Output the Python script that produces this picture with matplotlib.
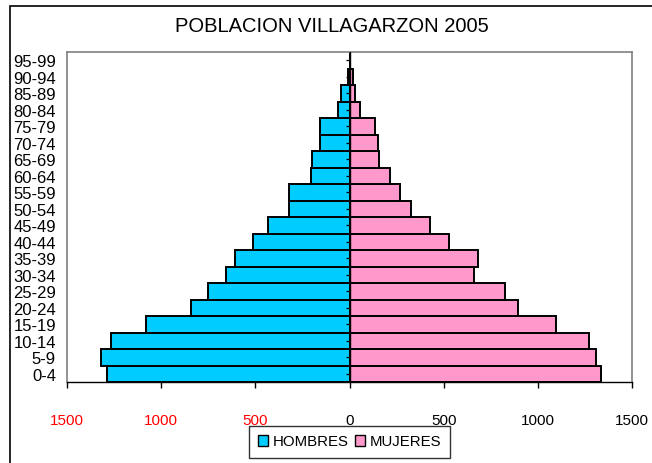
import matplotlib
matplotlib.use("Agg")
import matplotlib.pyplot as plt
from matplotlib.patches import Rectangle

plt.rcParams['font.family'] = ['Liberation Sans', 'DejaVu Sans']

age_groups = ["0-4", "5-9", "10-14", "15-19", "20-24", "25-29", "30-34", "35-39",
              "40-44", "45-49", "50-54", "55-59", "60-64", "65-69", "70-74", "75-79",
              "80-84", "85-89", "90-94", "95-99"]
hombres = [1287, 1317, 1269, 1078, 840, 753, 658, 608, 514, 434, 322, 322, 205, 197,
           157, 157, 60, 46, 8, 0]
mujeres = [1335, 1310, 1271, 1097, 897, 824, 660, 682, 530, 427, 324, 269, 214, 157,
           149, 135, 55, 28, 18, 0]
xticks = [-1500, -1000, -500, 0, 500, 1000, 1500]
xtick_labels = ["1500", "1000", "500", "0", "500", "1000", "1500"]
title = "POBLACION VILLAGARZON 2005"

W, H = 652, 464
fig = plt.figure(figsize=(W / 100, H / 100), dpi=100)

# outer chart frame
fig.patches.append(Rectangle((10 / W, -0.1), 1.2, 1 - 7 / H + 0.1,
                             transform=fig.transFigure, fill=False,
                             edgecolor="black", linewidth=1.2, zorder=0))

ax = fig.add_axes([67 / W, 81 / H, 565 / W, 330 / H])
y = list(range(len(age_groups)))

ax.barh(y, [-v for v in hombres], height=1.0, color="#00CCFF",
        edgecolor="black", linewidth=1.4, label="HOMBRES", zorder=2)
ax.barh(y, mujeres, height=1.0, color="#FF99CC",
        edgecolor="black", linewidth=1.4, label="MUJERES", zorder=2)

ax.set_xlim(-1500, 1500)
ax.set_ylim(-0.5, len(age_groups) - 0.5)

# central category axis
ax.axvline(0, color="black", linewidth=1.0, zorder=3)
ax.plot([0] * len(y), y, linestyle="none", marker=0, markersize=3,
        color="black", markeredgewidth=0.9, zorder=4)

ax.set_yticks(y)
ax.set_yticklabels(age_groups, fontsize=12)
ax.tick_params(axis="y", length=0, pad=8)

ax.set_xticks(xticks)
ax.set_xticklabels(xtick_labels, fontsize=11)
ax.tick_params(axis="x", length=4, width=1, direction="out", pad=18, color="black")
for lbl, v in zip(ax.get_xticklabels(), xticks):
    lbl.set_color("#FF0000" if v < 0 else "black")

for side in ["left", "top", "right"]:
    ax.spines[side].set_color("#808080")
    ax.spines[side].set_linewidth(1.2)
ax.spines["bottom"].set_color("black")
ax.spines["bottom"].set_linewidth(1.0)

fig.text(332 / W, 1 - 27 / H, title, ha="center", va="center", fontsize=14.5)

handles = [Rectangle((0, 0), 1, 1, facecolor="#00CCFF", edgecolor="black", linewidth=1.0),
           Rectangle((0, 0), 1, 1, facecolor="#FF99CC", edgecolor="black", linewidth=1.0)]
leg = fig.legend(handles, ["HOMBRES", "MUJERES"], loc="center",
                 bbox_to_anchor=(349.5 / W, 1 - 442.5 / H), ncol=2, fontsize=10.8,
                 frameon=True, fancybox=False, handlelength=0.7, handleheight=0.7,
                 handletextpad=0.3, columnspacing=0.4, borderpad=0.6,
                 borderaxespad=0, edgecolor="black")
leg.get_frame().set_linewidth(1.0)

fig.savefig("out.png", dpi=100)
